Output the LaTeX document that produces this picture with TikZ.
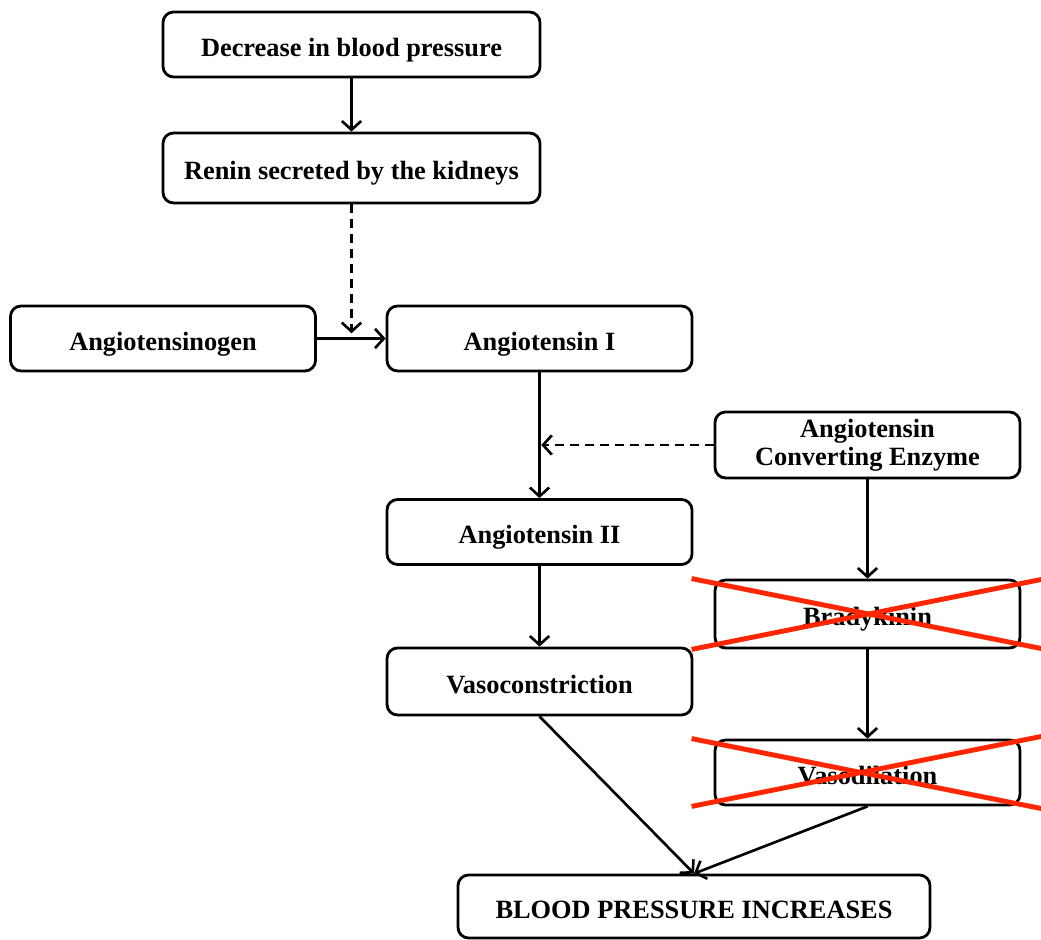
\documentclass[tikz,border=0pt]{standalone}
\usepackage{fontspec}
\setmainfont{Liberation Serif}
\usetikzlibrary{arrows.meta}
\definecolor{xred}{RGB}{255,38,0}
\tikzstyle{box} = [rectangle, rounded corners=6pt, minimum width=6.1cm, minimum height=1.3cm, inner sep=0pt, text centered, align=center, text height=13.4pt, text depth=0pt, draw=black, line width=1.6pt, font=\fontsize{15}{16}\selectfont\bfseries]
\tikzstyle{arrow} = [line width=1.5pt,->,>={Straight Barb[length=5pt,width=11pt]}]
\tikzstyle{dasharrow} = [arrow, dash pattern=on 5pt off 3.5pt]
\tikzstyle{cross} = [xred, line width=2.8pt]

\begin{document}
\begin{tikzpicture}
\clip (0,0) rectangle (20.82,18.8);
\fill[white] (0,0) rectangle (20.82,18.8);

\node[box,minimum width=7.54cm] (dec) at (7.03,17.91) {Decrease in blood pressure};
\node[box,minimum width=7.54cm,minimum height=1.4cm] (renin) at (7.03,15.44) {Renin secreted by the kidneys};
\node[box] (agen) at (3.26,12.03) {Angiotensinogen};
\node[box] (ang1) at (10.79,12.03) {Angiotensin I};
\node[box,minimum height=1.32cm,text height=,text depth=] (ace) at (17.35,9.9) {Angiotensin\\Converting Enzyme};
\node[box] (ang2) at (10.79,8.16) {Angiotensin II};
\node[box,minimum height=1.34cm] (vaso) at (10.79,5.17) {Vasoconstriction};
\node[box,minimum height=1.36cm] (brady) at (17.35,6.52) {Bradykinin};
\node[box] (vasod) at (17.35,3.35) {Vasodilation};
\node[box,minimum width=9.44cm,minimum height=1.26cm] (bp) at (13.88,0.67) {BLOOD PRESSURE INCREASES};

\draw[arrow] (dec) -- (renin);
\draw[arrow] (agen) -- (ang1);
\draw[dasharrow,shorten >=3pt] (renin.south) -- (renin.south |- agen.east);
\draw[arrow] (ang1) -- (ang2);
\draw[dasharrow,shorten >=1pt] (ace.west) -- (ang1.south |- ace.west);
\draw[arrow] (ang2) -- (vaso);
\draw[arrow] (ace) -- (brady);
\draw[arrow] (brady) -- (vasod);
\draw[arrow] (vaso.south) -- (bp.north);
\draw[arrow] (vasod.south) -- (bp.north);

% crossed out
\foreach \n in {brady,vasod}{
	\draw[cross] (\n.north west) ++(-0.44,0) -- ++(7.5,-1.5);
	\draw[cross] (\n.south west) ++(-0.44,0) -- ++(7.5,1.5);}
\end{tikzpicture}
\end{document}
